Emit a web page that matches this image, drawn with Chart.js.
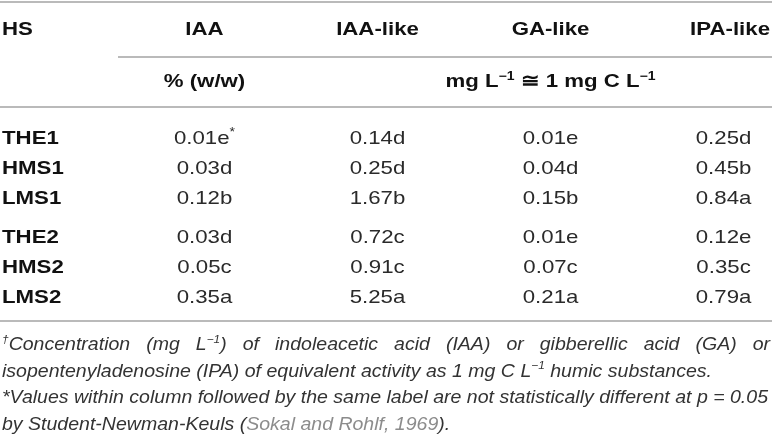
<!DOCTYPE html>
<html>
<head>
<meta charset="utf-8">
<script src="https://cdn.jsdelivr.net/npm/chart.js@4"></script>
<style>
  html, body { margin: 0; padding: 0; background: #fff; }
  #wrap { width: 772px; height: 440px; position: relative; }
</style>
</head>
<body>
<div id="wrap"><canvas id="table-chart"></canvas></div>
<script>
// table content
const hsLabels = ["THE1", "HMS1", "LMS1", "THE2", "HMS2", "LMS2"];
const columnNames = ["IAA", "IAA-like", "GA-like", "IPA-like"];
const unitLabels = ["% (w/w)", "mg L|−1| ≅ 1 mg C L|−1|"];
const iaaValues = [0.01, 0.03, 0.12, 0.03, 0.05, 0.35];
const iaaLetters = ["e*", "d", "b", "d", "c", "a"];
const iaaLikeValues = [0.14, 0.25, 1.67, 0.72, 0.91, 5.25];
const iaaLikeLetters = ["d", "d", "b", "c", "c", "a"];
const gaLikeValues = [0.01, 0.04, 0.15, 0.01, 0.07, 0.21];
const gaLikeLetters = ["e", "d", "b", "e", "c", "a"];
const ipaLikeValues = [0.25, 0.45, 0.84, 0.12, 0.35, 0.79];
const ipaLikeLetters = ["d", "b", "a", "e", "c", "a"];
const footnotes = [
    "|†|Concentration (mg L|−1|) of indoleacetic acid (IAA) or gibberellic acid (GA) or",
    "isopentenyladenosine (IPA) of equivalent activity as 1 mg C L|−1| humic substances.",
    "*Values within column followed by the same label are not statistically different at p = 0.05",
    "by Student-Newman-Keuls ({Sokal and Rohlf, 1969})."
];

const allValues = [iaaValues, iaaLikeValues, gaLikeValues, ipaLikeValues];
const allLetters = [iaaLetters, iaaLikeLetters, gaLikeLetters, ipaLikeLetters];

const FAMILY = "'Liberation Sans', Arial, sans-serif";
const STRETCH = 1.17;

// row position: one extra gap between the two HS groups (suffix 1 / 2)
function rowPos(i) {
    let group = parseInt(hsLabels[i].slice(-1)) - 1;
    return i + group * 0.3;
}

// "a|sup|b{grey}" -> segments
function parseRich(str) {
    let segs = [];
    let re = /\|([^|]*)\||\{([^}]*)\}|([^|{]+)/g;
    let m;
    while ((m = re.exec(str)) !== null) {
        if (m[1] !== undefined) segs.push({ text: m[1], sup: true });
        else if (m[2] !== undefined) segs.push({ text: m[2], color: "#8c8c8c" });
        else segs.push({ text: m[3] });
    }
    return segs;
}

function drawLine(ctx, segs, x, y, o) {
    const font = sup => `${o.style || ""} ${o.weight || "normal"} ${sup ? Math.round(o.size * 0.62) : o.size}px ${FAMILY}`;
    let natural = 0, spaces = 0;
    segs.forEach(s => {
        ctx.font = font(s.sup);
        natural += ctx.measureText(s.text).width;
        if (!s.sup) spaces += (s.text.match(/ /g) || []).length;
    });
    natural *= o.sx;
    let gap = 0;
    if (o.width && spaces) gap = (o.width - natural) / spaces;
    let total = o.width || natural;
    let cx = o.align === "center" ? x - total / 2 : o.align === "right" ? x - total : x;
    segs.forEach(s => {
        ctx.font = font(s.sup);
        ctx.fillStyle = s.color || o.color;
        const dy = s.sup ? -o.size * 0.4 : 0;
        s.text.split(" ").forEach((w, k) => {
            if (k > 0) cx += ctx.measureText(" ").width * o.sx + gap;
            ctx.save();
            ctx.translate(cx, y + dy);
            ctx.scale(o.sx, 1);
            ctx.fillText(w, 0, 0);
            ctx.restore();
            cx += ctx.measureText(w).width * o.sx;
        });
    });
    return natural;
}

function lineWidth(ctx, segs, o) {
    let w = 0;
    segs.forEach(s => {
        ctx.font = `${o.style || ""} ${o.weight || "normal"} ${s.sup ? Math.round(o.size * 0.62) : o.size}px ${FAMILY}`;
        w += ctx.measureText(s.text).width;
    });
    return w;
}

const tablePlugin = {
    id: "tableText",
    afterDatasetsDraw(chart) {
        const ctx = chart.ctx;
        const xs = chart.scales.x, ys = chart.scales.y;
        const left = chart.chartArea.left, right = chart.chartArea.right;
        const size = 19;
        const capMid = size * 0.716 / 2;
        ctx.save();
        ctx.textBaseline = "alphabetic";

        // rules
        ctx.strokeStyle = "#a3a3a3";
        ctx.lineWidth = 1.5;
        const rule = (v, x0) => {
            let py = ys.getPixelForValue(v);
            ctx.beginPath();
            ctx.moveTo(x0, py);
            ctx.lineTo(right, py);
            ctx.stroke();
        };
        rule(-4.5, left);
        rule(-2.67, xs.getPixelForValue(0.5));
        rule(-1.0, left);
        rule(6.13, left);

        // header
        const head = { weight: "bold", size: size, sx: STRETCH, color: "#111", align: "center" };
        let h1 = ys.getPixelForValue(-3.63) + capMid;
        drawLine(ctx, [{ text: "HS" }], left + 2, h1, Object.assign({}, head, { align: "left" }));
        columnNames.forEach((name, c) => {
            // last header sits flush with the right edge
            if (c === columnNames.length - 1) {
                drawLine(ctx, [{ text: name }], right - 2, h1, Object.assign({}, head, { align: "right" }));
            } else {
                drawLine(ctx, [{ text: name }], xs.getPixelForValue(c + 1), h1, head);
            }
        });
        let h2 = ys.getPixelForValue(-1.89) + capMid;
        drawLine(ctx, parseRich(unitLabels[0]), xs.getPixelForValue(1), h2, head);
        drawLine(ctx, parseRich(unitLabels[1]), xs.getPixelForValue(3), h2, head);

        // body cells, placed at the dataset points
        const body = { size: size, sx: STRETCH, color: "#2a2a2a", align: "center" };
        chart.data.datasets.forEach((ds, c) => {
            const meta = chart.getDatasetMeta(c);
            meta.data.forEach((pt, i) => {
                const letters = allLetters[c][i];
                let segs = [{ text: allValues[c][i].toFixed(2) + letters.replace("*", "") }];
                if (letters.indexOf("*") >= 0) segs.push({ text: "*", sup: true });
                drawLine(ctx, segs, pt.x, pt.y + capMid, body);
                if (c === 0) {
                    drawLine(ctx, [{ text: hsLabels[i] }], left + 2, pt.y + capMid,
                        { weight: "bold", size: size, sx: STRETCH, color: "#111", align: "left" });
                }
            });
        });

        // footnotes
        const foot = { style: "italic", size: 18, sx: 1, color: "#333", align: "left" };
        const segsList = footnotes.map(parseRich);
        foot.sx = (right - left - 6) / lineWidth(ctx, segsList[2], foot);
        let fy = ys.getPixelForValue(6.13) + 29;
        segsList.forEach((segs, k) => {
            let o = Object.assign({}, foot);
            if (k === 0) o.width = right - left - 4;
            drawLine(ctx, segs, left + 2, fy + k * 26.7, o);
        });
        ctx.restore();
    }
};

function buildDatasets() {
    return columnNames.map((name, c) => ({
        label: name,
        data: allValues[c].map((v, i) => ({ x: c + 1, y: rowPos(i) })),
        pointRadius: 0,
        showLine: false
    }));
}

let ctxTable = document.getElementById("table-chart").getContext("2d");
let chart = new Chart(ctxTable, {
    type: "scatter",
    data: { datasets: buildDatasets() },
    options: {
        responsive: true,
        maintainAspectRatio: false,
        animation: false,
        layout: { padding: 0 },
        plugins: { legend: { display: false }, tooltip: { enabled: false } },
        scales: {
            x: { type: "linear", display: false, min: -0.182, max: 4.28 },
            y: { type: "linear", display: false, reverse: true, min: -4.567, max: 10.1 }
        }
    },
    plugins: [tablePlugin]
});
</script>
</body>
</html>
